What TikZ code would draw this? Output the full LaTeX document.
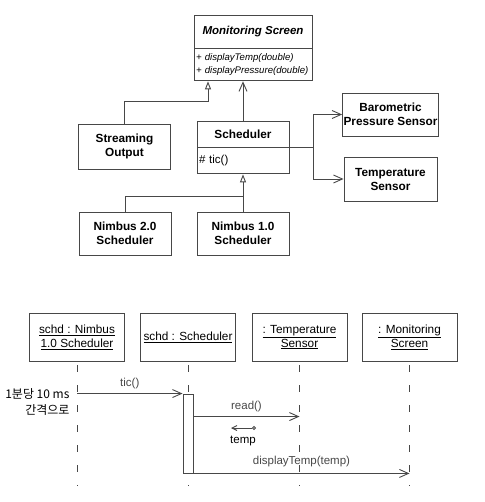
\documentclass[tikz,border=0pt]{standalone}
\usepackage{fontspec}
\setmainfont{Liberation Sans}
\newfontfamily\kr{Noto Sans CJK KR}
\usepackage{xcolor}
\usepackage{tikz}
\usetikzlibrary{arrows.meta}
\definecolor{umlline}{gray}{0.28}

\tikzset{
  cls/.style={draw=umlline, line width=0.9pt, minimum width=92pt, align=center,
    inner sep=1pt, font=\fontsize{11.8}{14}\selectfont\bfseries},
  ops/.style={draw=umlline, line width=0.9pt, anchor=north, align=left, inner sep=2pt},
  obj/.style={draw=umlline, line width=0.9pt, minimum width=95pt, minimum height=48pt,
    align=center, font=\fontsize{11.8}{14}\selectfont},
  gen/.style={umlline, line width=0.9pt, -{Triangle[open, length=8pt, width=6pt]}},
  nav/.style={umlline, line width=0.9pt, -{Straight Barb[length=9pt, width=8pt]}},
  life/.style={umlline, line width=0.9pt, dash pattern=on 7pt off 13pt, dash phase=16pt},
  lbl/.style={font=\fontsize{11.5}{13}\selectfont}
}

\begin{document}
\begin{tikzpicture}[x=1pt, y=-1pt]
    \useasboundingbox (0,0) rectangle (484,502);

    % class diagram
    \node[cls, minimum width=118pt, minimum height=33pt,
      font=\fontsize{11.5}{13.5}\selectfont\bfseries\itshape] (ms) at (253,31.5) {Monitoring Screen};
    \node[ops, text width=114pt, minimum height=32pt, font=\fontsize{9.6}{13}\selectfont\itshape]
      (msops) at (ms.south) {+ displayTemp(double)\\+ displayPressure(double)};

    \node[cls, minimum height=45pt] (so) at (124.5,146.5) {Streaming\\Output};
    \node[cls, minimum height=26pt] (sch) at (243,134) {Scheduler};
    \node[ops, text width=88pt, minimum height=26pt, lbl] (schops) at (sch.south) {\# tic()};
    \node[cls, minimum width=93pt, minimum height=43pt] (bps) at (390.5,114.5) {Barometric\\Pressure Sensor};
    \node[cls, minimum width=93pt, minimum height=44pt] (ts) at (390.5,179) {Temperature\\Sensor};
    \node[cls, minimum height=43pt] (n2) at (125,233.5) {Nimbus 2.0\\Scheduler};
    \node[cls, minimum height=43pt] (n1) at (243,233.5) {Nimbus 1.0\\Scheduler};

    \draw[gen] (so.north) -- ++(0,-22) -| ([xshift=-45pt]msops.south);
    \draw[nav] (sch.north) -- (sch.north |- msops.south);
    \draw[nav] (schops.north east) -- ++(24,0) |- (bps.west);
    \draw[nav] (schops.north east) -- ++(24,0) |- (ts.west);
    \draw[gen] (n1.north) -- (schops.south);
    \draw[umlline, line width=0.9pt] (n2.north) -- ++(0,-15) -| (n1.north);

    % sequence diagram
    \node[obj] (o1) at (77,337) {\underline{schd : Nimbus}\\\underline{1.0 Scheduler}};
    \node[obj] (o2) at (188,337) {\underline{schd : Scheduler}};
    \node[obj] (o3) at (299.5,337) {\underline{: Temperature}\\\underline{Sensor}};
    \node[obj] (o4) at (409.5,337) {\underline{: Monitoring}\\\underline{Screen}};

    \foreach \o in {o1,o2,o3,o4}
      \draw[life] (\o.south) -- ++(0,125);

    \node[draw=umlline, line width=0.9pt, fill=white, minimum width=10pt, minimum height=79pt,
      inner sep=0pt] (act) at (188,433.5) {};

    \draw[nav] (o1.south |- act.north) -- (act.north west) node[midway, above=1pt, lbl] {tic()};
    \node[anchor=east, align=right, font=\kr\fontsize{12}{16}\selectfont] (note) at (73,402)
      {1분당 10 ms\\간격으로};

    \coordinate (rd) at ([yshift=-23pt]act.north east);
    \draw[nav] (rd) -- (rd -| o3.south) node[midway, above=1pt, lbl] {read()};

    \coordinate (rtA) at (256,428);
    \coordinate (rtB) at (231,428);
    \draw[umlline, line width=0.9pt, {Straight Barb[length=5pt, width=5pt]}-{Circle[open, length=4pt]}]
      (rtB) -- (rtA);
    \node[lbl] (tmp) at (243,441) {temp};

    \draw[nav] (act.south east) -- (act.south east -| o4.south)
      node[midway, above=3pt, lbl] {displayTemp(temp)};
\end{tikzpicture}
\end{document}
